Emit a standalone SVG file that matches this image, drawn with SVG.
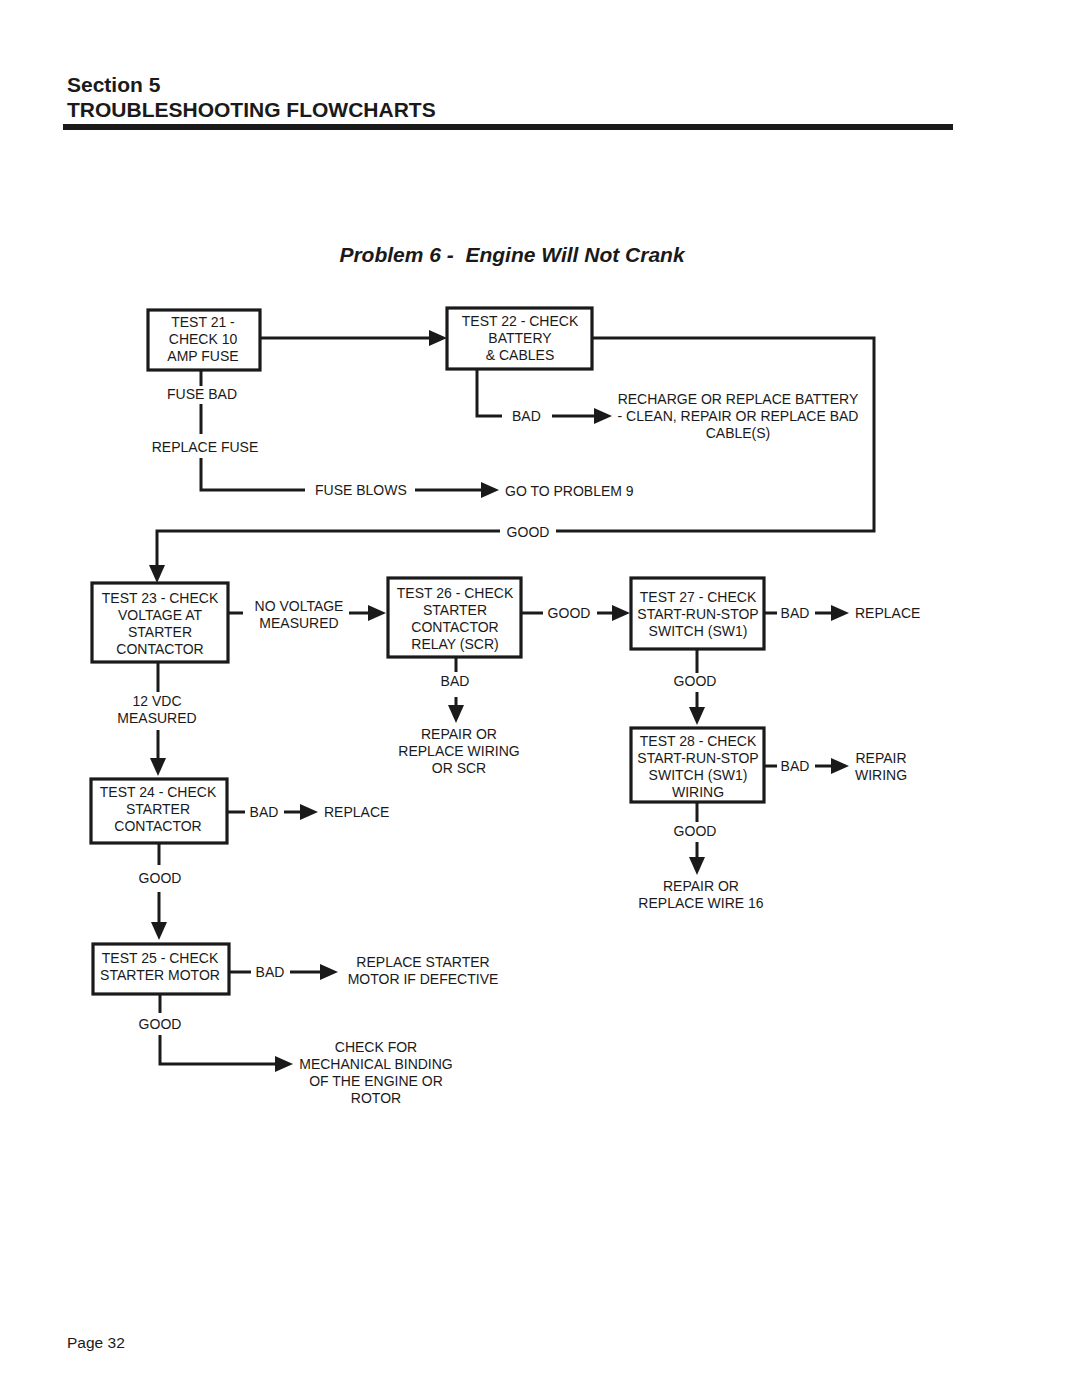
<svg xmlns="http://www.w3.org/2000/svg" width="1080" height="1397" viewBox="0 0 1080 1397">
<style>
text{font-family:"Liberation Sans",Arial,sans-serif;font-size:14px;fill:#1a1a1a}
.c{text-anchor:middle}
.box{fill:#fff;stroke:#1a1a1a;stroke-width:3.2}
.ln{fill:none;stroke:#1a1a1a;stroke-width:3}
.hd{font-size:21px;font-weight:bold}
.ttl{font-size:21px;font-weight:bold;font-style:italic;white-space:pre}
</style>
<defs>
<path id="ahR" d="M-18,-8 L0,0 L-18,8 z" fill="#1a1a1a"/>
<path id="ahD" d="M-8,-18 L0,0 L8,-18 z" fill="#1a1a1a"/>
</defs>
<rect width="1080" height="1397" fill="#fff"/>
<g id="header">
<text class="hd" x="67" y="92">Section 5</text>
<text class="hd" x="67" y="117">TROUBLESHOOTING FLOWCHARTS</text>
<rect x="63" y="124" width="890" height="6" fill="#1a1a1a"/>
<text class="ttl c" x="512" y="262" xml:space="preserve">Problem 6 -  Engine Will Not Crank</text>
</g>
<g id="connectors">
<line class="ln" x1="260" y1="338" x2="432" y2="338"/>
<use href="#ahR" x="447" y="338"/>
<polyline class="ln" points="592,338 874,338 874,531 556,531"/>
<polyline class="ln" points="500,531 157,531 157,568"/>
<use href="#ahD" x="157" y="583"/>
<polyline class="ln" points="477,369 477,416 502,416"/>
<line class="ln" x1="552" y1="416" x2="597" y2="416"/>
<use href="#ahR" x="612" y="416"/>
<line class="ln" x1="201" y1="370" x2="201" y2="386"/>
<line class="ln" x1="201" y1="404" x2="201" y2="434"/>
<polyline class="ln" points="201,458 201,490 305,490"/>
<line class="ln" x1="415" y1="490" x2="484" y2="490"/>
<use href="#ahR" x="499" y="490"/>
<line class="ln" x1="228" y1="613" x2="243" y2="613"/>
<line class="ln" x1="349" y1="613" x2="371" y2="613"/>
<use href="#ahR" x="386" y="613"/>
<line class="ln" x1="521" y1="613" x2="543" y2="613"/>
<line class="ln" x1="597" y1="613" x2="615" y2="613"/>
<use href="#ahR" x="630" y="613"/>
<line class="ln" x1="764" y1="613" x2="777" y2="613"/>
<line class="ln" x1="815" y1="613" x2="834" y2="613"/>
<use href="#ahR" x="849" y="613"/>
<line class="ln" x1="697" y1="649" x2="697" y2="673"/>
<line class="ln" x1="697" y1="692" x2="697" y2="710"/>
<use href="#ahD" x="697" y="725"/>
<line class="ln" x1="764" y1="766" x2="777" y2="766"/>
<line class="ln" x1="815" y1="766" x2="834" y2="766"/>
<use href="#ahR" x="849" y="766"/>
<line class="ln" x1="697" y1="802" x2="697" y2="822"/>
<line class="ln" x1="697" y1="842" x2="697" y2="860"/>
<use href="#ahD" x="697" y="875"/>
<line class="ln" x1="456" y1="657" x2="456" y2="672"/>
<line class="ln" x1="456" y1="697" x2="456" y2="708"/>
<use href="#ahD" x="456" y="723"/>
<line class="ln" x1="158" y1="662" x2="158" y2="692"/>
<line class="ln" x1="158" y1="730" x2="158" y2="761"/>
<use href="#ahD" x="158" y="776"/>
<line class="ln" x1="227" y1="812" x2="245" y2="812"/>
<line class="ln" x1="284" y1="812" x2="303" y2="812"/>
<use href="#ahR" x="318" y="812"/>
<line class="ln" x1="159" y1="843" x2="159" y2="865"/>
<line class="ln" x1="159" y1="892" x2="159" y2="925"/>
<use href="#ahD" x="159" y="940"/>
<line class="ln" x1="229" y1="972" x2="251" y2="972"/>
<line class="ln" x1="290" y1="972" x2="323" y2="972"/>
<use href="#ahR" x="338" y="972"/>
<line class="ln" x1="160" y1="994" x2="160" y2="1013"/>
<polyline class="ln" points="160,1035 160,1064 278,1064"/>
<use href="#ahR" x="293" y="1064"/>
</g>
<g id="labels">
<text class="c" x="202" y="399">FUSE BAD</text>
<text class="c" x="205" y="452">REPLACE FUSE</text>
<text x="315" y="495">FUSE BLOWS</text>
<text x="505" y="496">GO TO PROBLEM 9</text>
<text x="512" y="421">BAD</text>
<text class="c" x="738" y="404">RECHARGE OR REPLACE BATTERY</text>
<text class="c" x="738" y="421">- CLEAN, REPAIR OR REPLACE BAD</text>
<text class="c" x="738" y="438">CABLE(S)</text>
<text class="c" x="528" y="537">GOOD</text>
<text class="c" x="299" y="611">NO VOLTAGE</text>
<text class="c" x="299" y="628">MEASURED</text>
<text class="c" x="569" y="618">GOOD</text>
<text class="c" x="795" y="618">BAD</text>
<text x="855" y="618">REPLACE</text>
<text class="c" x="695" y="686">GOOD</text>
<text class="c" x="795" y="771">BAD</text>
<text class="c" x="881" y="763">REPAIR</text>
<text class="c" x="881" y="780">WIRING</text>
<text class="c" x="695" y="836">GOOD</text>
<text class="c" x="701" y="891">REPAIR OR</text>
<text class="c" x="701" y="908">REPLACE WIRE 16</text>
<text class="c" x="455" y="686">BAD</text>
<text class="c" x="459" y="739">REPAIR OR</text>
<text class="c" x="459" y="756">REPLACE WIRING</text>
<text class="c" x="459" y="773">OR SCR</text>
<text class="c" x="157" y="706">12 VDC</text>
<text class="c" x="157" y="723">MEASURED</text>
<text class="c" x="264" y="817">BAD</text>
<text x="324" y="817">REPLACE</text>
<text class="c" x="160" y="883">GOOD</text>
<text class="c" x="270" y="977">BAD</text>
<text class="c" x="423" y="967">REPLACE STARTER</text>
<text class="c" x="423" y="984">MOTOR IF DEFECTIVE</text>
<text class="c" x="160" y="1029">GOOD</text>
<text class="c" x="376" y="1052">CHECK FOR</text>
<text class="c" x="376" y="1069">MECHANICAL BINDING</text>
<text class="c" x="376" y="1086">OF THE ENGINE OR</text>
<text class="c" x="376" y="1103">ROTOR</text>
<text x="67" y="1348" style="font-size:15.5px">Page 32</text>
</g>
<g id="test21">
<rect class="box" x="148" y="310" width="112" height="60"/>
<text class="c" x="203" y="327">TEST 21 -</text>
<text class="c" x="203" y="344">CHECK 10</text>
<text class="c" x="203" y="361">AMP FUSE</text>
</g>
<g id="test22">
<rect class="box" x="447" y="308" width="145" height="61"/>
<text class="c" x="520" y="326">TEST 22 - CHECK</text>
<text class="c" x="520" y="343">BATTERY</text>
<text class="c" x="520" y="360">&amp; CABLES</text>
</g>
<g id="test23">
<rect class="box" x="92" y="583" width="136" height="79"/>
<text class="c" x="160" y="603">TEST 23 - CHECK</text>
<text class="c" x="160" y="620">VOLTAGE AT</text>
<text class="c" x="160" y="637">STARTER</text>
<text class="c" x="160" y="654">CONTACTOR</text>
</g>
<g id="test26">
<rect class="box" x="388" y="578" width="133" height="79"/>
<text class="c" x="455" y="598">TEST 26 - CHECK</text>
<text class="c" x="455" y="615">STARTER</text>
<text class="c" x="455" y="632">CONTACTOR</text>
<text class="c" x="455" y="649">RELAY (SCR)</text>
</g>
<g id="test27">
<rect class="box" x="631" y="578" width="133" height="71"/>
<text class="c" x="698" y="602">TEST 27 - CHECK</text>
<text class="c" x="698" y="619">START-RUN-STOP</text>
<text class="c" x="698" y="636">SWITCH (SW1)</text>
</g>
<g id="test28">
<rect class="box" x="631" y="728" width="133" height="74"/>
<text class="c" x="698" y="746">TEST 28 - CHECK</text>
<text class="c" x="698" y="763">START-RUN-STOP</text>
<text class="c" x="698" y="780">SWITCH (SW1)</text>
<text class="c" x="698" y="797">WIRING</text>
</g>
<g id="test24">
<rect class="box" x="91" y="779" width="136" height="64"/>
<text class="c" x="158" y="797">TEST 24 - CHECK</text>
<text class="c" x="158" y="814">STARTER</text>
<text class="c" x="158" y="831">CONTACTOR</text>
</g>
<g id="test25">
<rect class="box" x="93" y="944" width="136" height="50"/>
<text class="c" x="160" y="963">TEST 25 - CHECK</text>
<text class="c" x="160" y="980">STARTER MOTOR</text>
</g>
</svg>
